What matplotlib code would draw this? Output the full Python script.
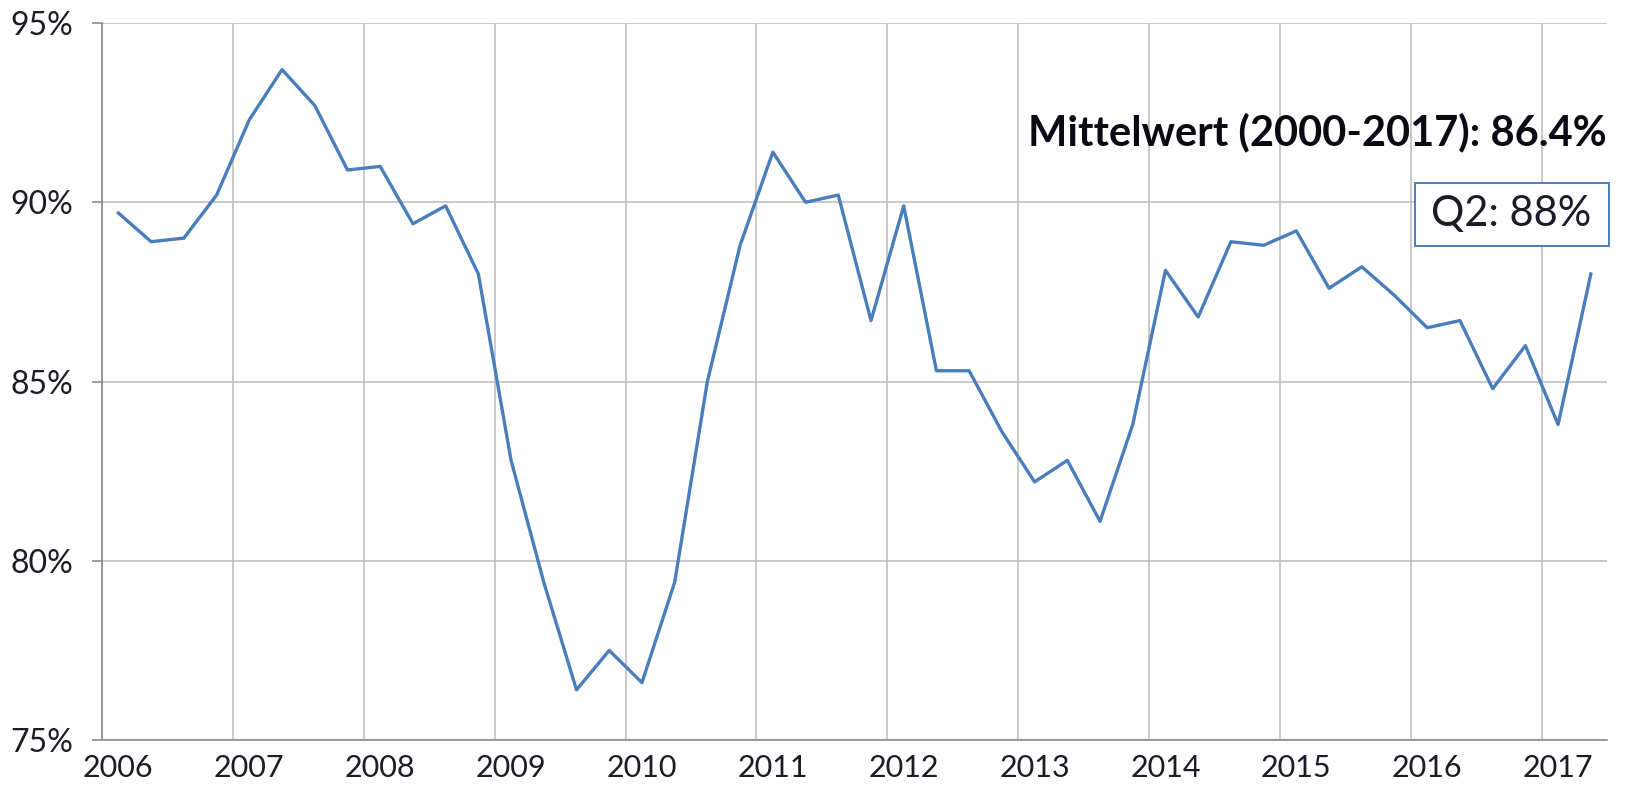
import numpy as np
import matplotlib
matplotlib.use('Agg')
import matplotlib.pyplot as plt
from matplotlib.ticker import FuncFormatter
from matplotlib.patches import Rectangle

plt.rcParams['font.family'] = ['Lato', 'DejaVu Sans']

# quarterly values 2006 Q1 .. 2017 Q2
years = list(range(2006, 2018))
quarters = [(y, q) for y in years for q in range(1, 5)][:46]
values = [89.7, 88.9, 89.0, 90.2,
          92.3, 93.7, 92.7, 90.9,
          91.0, 89.4, 89.9, 88.0,
          82.8, 79.4, 76.4, 77.5,
          76.6, 79.4, 85.0, 88.8,
          91.4, 90.0, 90.2, 86.7,
          89.9, 85.3, 85.3, 83.6,
          82.2, 82.8, 81.1, 83.8,
          88.1, 86.8, 88.9, 88.8,
          89.2, 87.6, 88.2, 87.4,
          86.5, 86.7, 84.8, 86.0,
          83.8, 88.0]
y_ticks = [75, 80, 85, 90, 95]
mean_label = 'Mittelwert (2000-2017): 86.4%'
last_label = 'Q2: 88%'

x = [y + (q - 0.5) / 4 for y, q in quarters]

fig = plt.figure(figsize=(16.41, 7.85), dpi=100)
ax = fig.add_axes([0.0622, 0.0573, 0.9172, 0.9134])

ax.plot(x, values, color='#4a7ebb', lw=2.4, zorder=3)

ax.set_xlim(2006, 2017.5)
ax.set_ylim(75, 95)
# year labels sit under the first quarter, gridlines at the year boundary
ax.set_xticks([y + 0.125 for y in years])
ax.set_xticklabels([str(y) for y in years])
ax.set_xticks(years, minor=True)
ax.set_yticks(y_ticks)
ax.yaxis.set_major_formatter(FuncFormatter(lambda v, p: '%d%%' % v))

ax.grid(False)
ax.xaxis.grid(True, which='minor', color='#c0c0c0', lw=1.2, zorder=0)
ax.yaxis.grid(True, which='major', color='#c0c0c0', lw=1.2, zorder=0)
for s in ['top', 'right']:
    ax.spines[s].set_visible(False)
for s in ['left', 'bottom']:
    ax.spines[s].set_color('#8c8c8c')
    ax.spines[s].set_linewidth(1.2)
    ax.spines[s].set_zorder(2)

ax.tick_params(axis='y', length=7, width=1.2, color='#8c8c8c', pad=14,
               labelsize=23, labelcolor='#1c1c28')
ax.tick_params(axis='x', which='both', length=0, pad=10, labelsize=22,
               labelcolor='#1c1c28')

ax.text(1.0, 0.848, mean_label, transform=ax.transAxes, ha='right', va='center',
        fontsize=30, fontweight='bold', color='#0a0a14')

# label box for the last value
ax.add_patch(Rectangle((0.872, 0.689), 0.129, 0.088, transform=ax.transAxes,
                       fc='white', ec='#4a7ebb', lw=1.4, clip_on=False, zorder=4))
ax.text(0.9365, 0.733, last_label, transform=ax.transAxes, ha='center', va='center',
        fontsize=30, color='#1c1c28', zorder=5)

fig.savefig('out.png', dpi=100)
